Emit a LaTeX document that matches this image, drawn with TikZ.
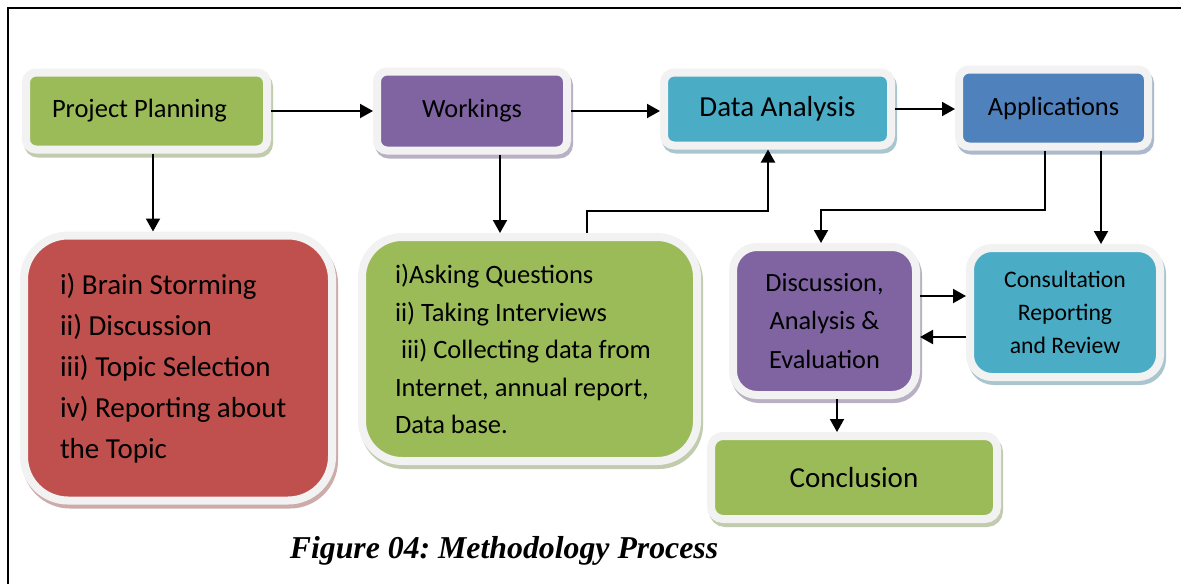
\documentclass[tikz,border=0pt]{standalone}
\usepackage{fontspec}
\setmainfont{Carlito}
\newfontfamily\capfont{Liberation Serif}
\usetikzlibrary{shadows,arrows.meta}
\definecolor{rim}{HTML}{F2F2F2}
\definecolor{grn}{HTML}{9BBB59}
\definecolor{prp}{HTML}{8064A2}
\definecolor{aqu}{HTML}{4BACC6}
\definecolor{blu}{HTML}{4F81BD}
\definecolor{rd}{HTML}{C0504D}
\frenchspacing

\begin{document}
\begin{tikzpicture}[x=1pt,y=-1pt,
      box/.style={rectangle, rounded corners=10pt, draw=rim, line width=8pt, fill=#1, inner sep=0pt,
        general shadow={fill=#1!55!gray!55!white, draw=#1!55!gray!55!white, shadow xshift=2pt, shadow yshift=-4pt}},
      pfeil/.style={-{Triangle[length=13pt,width=14pt]}, line width=2pt}]

\useasboundingbox (0,0) rectangle (1181,584);
\draw[line width=1.5pt] (8,584) -- (8,8) -- (1181,8);

\node[box=grn, minimum width=241pt, minimum height=77pt, text width=189pt, align=flush left, font=\fontsize{26.5}{32}\selectfont] (plan) at (146.5,111) {Project Planning};
\node[box=prp, minimum width=190pt, minimum height=79pt, font=\fontsize{26.3}{32}\selectfont] (work) at (472,111) {Workings};
\node[box=aqu, minimum width=227pt, minimum height=73pt, font=\fontsize{29}{34}\selectfont] (data) at (777.5,109) {Data Analysis};
\node[box=blu, minimum width=189pt, minimum height=77pt, font=\fontsize{26.4}{32}\selectfont] (appl) at (1053.5,108) {Applications};
\node[box=rd, rounded corners=44pt, minimum width=308pt, minimum height=265pt, text width=236pt, align=flush left, font=\fontsize{29}{41}\selectfont] (brain) at (178,368)
  {i) Brain Storming\\ii) Discussion\\iii) Topic Selection\\iv) Reporting about\\the Topic};
\node[box=grn, rounded corners=40pt, minimum width=335pt, minimum height=224pt, text width=269pt, align=flush left, font=\fontsize{26.5}{37.5}\selectfont] (collect) at (529.5,349)
  {i)Asking Questions\\ii) Taking Interviews\\\hspace*{.23em}iii) Collecting data from\\Internet, annual report,\\Data base.};
\node[box=prp, rounded corners=24pt, minimum width=183pt, minimum height=148pt, align=center, font=\fontsize{26.3}{38.5}\selectfont] (disc) at (824.5,321)
  {Discussion,\\Analysis \&\\Evaluation};
\node[box=aqu, rounded corners=22pt, minimum width=190pt, minimum height=129pt, align=center, font=\fontsize{23.7}{33}\selectfont] (cons) at (1065,312.5)
  {Consultation\\Reporting\\and Review};
\node[box=grn, rounded corners=12pt, minimum width=286pt, minimum height=83pt, font=\fontsize{29}{34}\selectfont] (concl) at (854,477.5) {Conclusion};
\node[font={\capfont\bfseries\itshape\fontsize{31.8}{36}\selectfont}] (cap) at (504,551) {Figure 04: Methodology Process};

\coordinate (k1) at (587,211);
\coordinate (k2) at (1045,210);
\draw[pfeil] (plan) -- (work);
\draw[pfeil] (work.east) -- (work.east -| data.west);
\draw[pfeil] (data.east) -- (data.east -| appl.west);
\draw[pfeil] ([xshift=6.5pt]plan.south) -- ([xshift=6.5pt]plan.south |- brain.north);
\draw[pfeil] ([xshift=28pt]work.south) -- ([xshift=28pt]work.south |- collect.north);
\draw[pfeil] (k1 |- collect.north) -- (k1) -| ([xshift=-9.5pt]data.south);
\draw[pfeil] (k2 |- appl.south) -- (k2) -| ([xshift=-3.5pt]disc.north);
\draw[pfeil] ([xshift=47.5pt]appl.south) -- ([xshift=47.5pt]appl.south |- cons.north);
\draw[pfeil] ([yshift=25pt]disc.east) -- ([yshift=25pt]disc.east -| cons.west);
\draw[pfeil] ([yshift=-16pt]disc.east -| cons.west) -- ([yshift=-16pt]disc.east);
\draw[pfeil] ([xshift=12.5pt]disc.south) -- ([xshift=12.5pt]disc.south |- concl.north);

\end{tikzpicture}
\end{document}
